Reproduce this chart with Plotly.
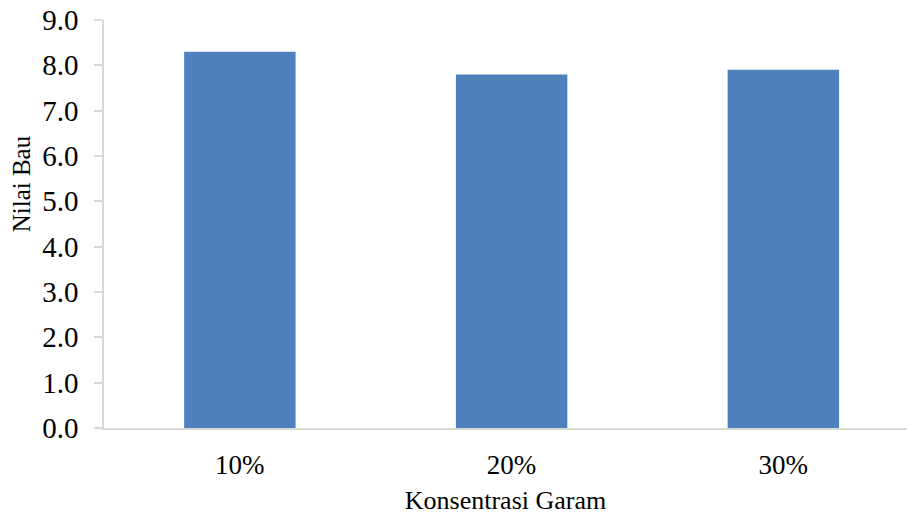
import plotly.graph_objects as go

# Salt concentration vs. odour score
categories = ["10%", "20%", "30%"]
odour_scores = [8.3, 7.8, 7.9]
y_tick_values = [0, 1, 2, 3, 4, 5, 6, 7, 8, 9]
y_tick_labels = ["0.0", "1.0", "2.0", "3.0", "4.0", "5.0", "6.0", "7.0", "8.0", "9.0"]

FONT = "Liberation Serif"
AXIS_GREY = "#D9D9D9"

fig = go.Figure(
    go.Bar(
        x=list(range(len(categories))),
        y=odour_scores,
        width=0.41,
        marker=dict(color="#4F81BD", line=dict(width=0)),
    )
)

fig.update_layout(
    width=907,
    height=515,
    margin=dict(l=104, r=0, t=20, b=87),
    paper_bgcolor="white",
    plot_bgcolor="white",
    showlegend=False,
    font=dict(family=FONT, color="black", size=26),
)

fig.update_xaxes(
    range=[-0.5, 2.455],
    tickmode="array",
    tickvals=list(range(len(categories))),
    ticktext=categories,
    showgrid=False,
    zeroline=False,
    showline=True,
    linecolor=AXIS_GREY,
    linewidth=1.5,
    ticks="",
    ticklabelstandoff=12,
    tickfont=dict(family=FONT, size=27, color="black"),
    title=dict(text="Konsentrasi Garam", font=dict(family=FONT, size=26, color="black"), standoff=14),
)

fig.update_yaxes(
    range=[0, 9],
    tickmode="array",
    tickvals=y_tick_values,
    ticktext=y_tick_labels,
    showgrid=False,
    zeroline=False,
    showline=True,
    linecolor=AXIS_GREY,
    linewidth=1.5,
    ticks="outside",
    ticklen=8,
    tickcolor=AXIS_GREY,
    tickwidth=1.5,
    ticklabelstandoff=10,
    tickfont=dict(family=FONT, size=29, color="black"),
)

# Vertical axis title, placed slightly above the plot's midline
fig.add_annotation(
    text="Nilai Bau",
    textangle=-90,
    xref="paper", yref="paper",
    x=-0.103, y=0.598,
    xanchor="center", yanchor="middle",
    showarrow=False,
    font=dict(family=FONT, size=25, color="black"),
)

fig.write_html("out.html")
